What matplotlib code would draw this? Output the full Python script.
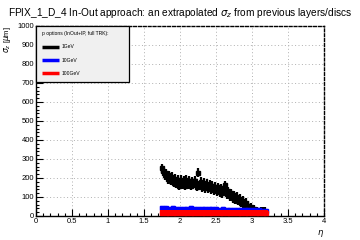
import matplotlib
matplotlib.use("Agg")
import matplotlib.pyplot as plt
from matplotlib.patches import Rectangle
from matplotlib.ticker import MultipleLocator

plt.rcParams['font.family'] = ['Liberation Sans', 'DejaVu Sans']

# ---- data ----
eta_black = [1.75, 1.77, 1.79, 1.81, 1.83, 1.85, 1.87, 1.89, 1.91, 1.93, 1.95, 1.97, 1.99,
             2.01, 2.03, 2.05, 2.07, 2.09, 2.11, 2.13, 2.15, 2.17, 2.19, 2.21, 2.23, 2.25,
             2.27, 2.29, 2.31, 2.33, 2.35, 2.37, 2.39, 2.41, 2.43, 2.45, 2.47, 2.49, 2.51,
             2.53, 2.55, 2.57, 2.59, 2.61, 2.63, 2.65, 2.67, 2.69, 2.71, 2.73, 2.75, 2.77,
             2.79, 2.81, 2.83, 2.85, 2.87, 2.89, 2.91, 2.93, 2.95, 2.97, 2.99, 3.01, 3.03,
             3.05, 3.07, 3.09, 3.12, 3.15, 3.18]
sig_black = [250, 235, 215, 225, 195, 215, 185, 205, 175, 195, 170, 190, 160,
             190, 165, 185, 160, 190, 165, 185, 160, 180, 170, 185, 155, 228,
             160, 180, 150, 175, 145, 170, 145, 165, 140, 160, 135, 155, 130,
             150, 125, 145, 120, 140, 162, 115, 130, 105, 120, 95, 110, 85,
             100, 80, 90, 70, 80, 60, 70, 50, 55, 40, 45, 30, 35,
             25, 25, 20, 22, 22, 22]
err_black = [24] * len(eta_black)

eta_blue = [1.75, 1.80, 1.85, 1.90, 1.95, 2.00, 2.05, 2.10, 2.15, 2.20, 2.25, 2.30,
            2.35, 2.40, 2.45, 2.50, 2.55, 2.60, 2.65, 2.70, 2.75, 2.80, 2.85, 2.90,
            2.95, 3.00, 3.05, 3.10, 3.15, 3.20]
sig_blue = [44, 40, 39, 40, 38, 39, 38, 39, 42, 39, 38, 37,
            37, 36, 36, 35, 34, 35, 34, 33, 33, 32, 32, 31,
            31, 30, 29, 29, 28, 28]
err_blue = [10] * len(eta_blue)

eta_red = eta_blue
sig_red = [15, 15, 15, 15, 15, 15, 15, 15, 15, 15, 17, 15,
           15, 15, 15, 15, 15, 15, 15, 15, 15, 15, 15, 15,
           15, 15, 15, 15, 15, 15]
err_red = [15] * len(eta_red)

xticks = [0, 0.5, 1, 1.5, 2, 2.5, 3, 3.5, 4]
xticklabels = ["0", "0.5", "1", "1.5", "2", "2.5", "3", "3.5", "4"]
yticks = [0, 100, 200, 300, 400, 500, 600, 700, 800, 900, 1000]
legend_labels = ["1GeV", "10GeV", "100GeV"]
colors = ["black", "#0000ff", "#ff0000"]

fig = plt.figure(figsize=(3.6, 2.4), dpi=100)
ax = fig.add_axes([0.1, 0.1, 0.8, 0.7917])

ax.errorbar(eta_black, sig_black, yerr=err_black, xerr=0.012, fmt='s', color='black',
            ms=3, elinewidth=1.6, capsize=0, zorder=3)
ax.errorbar(eta_blue, sig_blue, yerr=err_blue, xerr=0.025, fmt='s', color=colors[1],
            ms=2.5, elinewidth=3, capsize=0, zorder=4)
ax.errorbar(eta_red, sig_red, yerr=err_red, xerr=0.025, fmt='s', color=colors[2],
            ms=2.5, elinewidth=3, capsize=0, zorder=5)

ax.set_xlim(0, 4)
ax.set_ylim(0, 1000)
ax.set_xticks(xticks)
ax.set_xticklabels(xticklabels)
ax.set_yticks(yticks)
ax.xaxis.set_minor_locator(MultipleLocator(0.1))
ax.yaxis.set_minor_locator(MultipleLocator(20))
ax.tick_params(which='both', direction='in', labelsize=5.5, colors='black', width=0.8)
ax.tick_params(which='major', length=5, pad=1.5)
ax.tick_params(which='minor', length=2.5)
ax.grid(True, which='major', linestyle=(0, (1, 2.5)), color='#b0b0b0', linewidth=0.7)
ax.set_axisbelow(True)

for s in ['left', 'bottom']:
    ax.spines[s].set_linewidth(1.0)
for s in ['top', 'right']:
    ax.spines[s].set_linestyle((0, (2, 1.5)))
    ax.spines[s].set_linewidth(1.0)

ax.set_ylabel(r"$\sigma_z$ [$\mu$m]", fontsize=5.5, loc='top', labelpad=3)
ax.set_xlabel(r"$\eta$", fontsize=6, loc='right', labelpad=2)

fig.text(0.5, 0.945, r"FPIX_1_D_4 In-Out approach: an extrapolated $\sigma_z$ from previous layers/discs",
         ha='center', va='center', fontsize=7.3)

# legend box
ax.add_patch(Rectangle((0, 0.707), 0.323, 0.293, transform=ax.transAxes,
                       facecolor='#f0f0f0', edgecolor='black', linewidth=0.9, zorder=6,
                       clip_on=False))
ax.text(0.021, 0.958, "p options (InOut+IP, full TRK):", transform=ax.transAxes,
        fontsize=3.6, va='center', ha='left', zorder=7)
for yy, lab, c in zip([0.891, 0.821, 0.751], legend_labels, colors):
    ax.plot([0.021, 0.080], [yy, yy], transform=ax.transAxes, color=c, lw=2.5,
            zorder=7, solid_capstyle='butt')
    ax.text(0.090, yy, lab, transform=ax.transAxes, fontsize=3.6, va='center',
            ha='left', zorder=7)

fig.savefig("out.png", dpi=100)
